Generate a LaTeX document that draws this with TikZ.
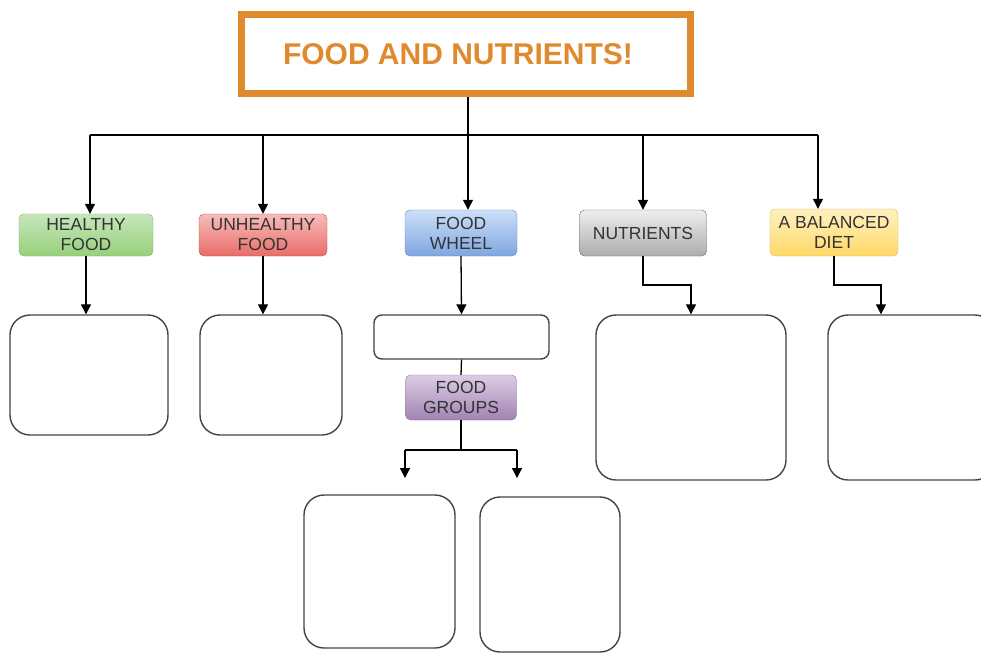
\documentclass[tikz,border=0pt]{standalone}
\usepackage{fontspec}
\setmainfont{Liberation Sans}
\usetikzlibrary{arrows.meta}
\definecolor{titleor}{HTML}{E08A2E}
\definecolor{txt}{HTML}{333333}
\definecolor{boxline}{HTML}{444444}
\definecolor{gT}{HTML}{C6E6BC}\definecolor{gB}{HTML}{97CF7A}\definecolor{gD}{HTML}{82B366}
\definecolor{rT}{HTML}{F6BCBA}\definecolor{rB}{HTML}{E96C68}\definecolor{rD}{HTML}{B85450}
\definecolor{bT}{HTML}{CCDFF8}\definecolor{bB}{HTML}{7EA6E0}\definecolor{bD}{HTML}{6C8EBF}
\definecolor{kT}{HTML}{EEEEEE}\definecolor{kB}{HTML}{ADADAD}\definecolor{kD}{HTML}{666666}
\definecolor{yT}{HTML}{FFF0C0}\definecolor{yB}{HTML}{FFD966}\definecolor{yD}{HTML}{D6B656}
\definecolor{pT}{HTML}{DCCDE4}\definecolor{pB}{HTML}{A183B2}\definecolor{pD}{HTML}{9673A6}
\tikzset{
  tag/.style={rounded corners=5pt, draw=#1D, top color=#1T, bottom color=#1B, inner sep=0pt, align=center,
    font=\fontsize{17.5}{20}\selectfont, text=txt},
  emptybox/.style={draw=boxline, line width=1.4pt, rounded corners=20pt, inner sep=0pt},
  conn/.style={line width=1.3pt, draw=black},
  arr/.style={conn, -{Triangle[length=10pt,width=10pt]}},
}
\begin{document}
\begin{tikzpicture}[x=1pt,y=-1pt]
\useasboundingbox (0,0) rectangle (981,653);
\fill[white] (0,0) rectangle (981,653);
% title
\node[draw=titleor, line width=7pt, minimum width=449pt, minimum height=79pt, inner sep=0pt,
  text=titleor, font=\bfseries\fontsize{30}{33}\selectfont] (title) at (466,54) {\hspace*{-16pt}FOOD AND NUTRIENTS!};
% category tags
\node[tag=g, minimum width=134pt, minimum height=42pt] (healthy) at (86,235) {HEALTHY\\FOOD};
\node[tag=r, minimum width=128pt, minimum height=42pt] (unhealthy) at (263,235) {UNHEALTHY\\FOOD};
\node[tag=b, minimum width=112pt, minimum height=46pt] (wheel) at (461,233) {FOOD\\WHEEL};
\node[tag=k, minimum width=127pt, minimum height=46pt] (nutr) at (643,233) {NUTRIENTS};
\node[tag=y, minimum width=128pt, minimum height=47pt] (diet) at (834,232.5) {A BALANCED\\DIET};
\node[tag=p, minimum width=111pt, minimum height=45pt] (groups) at (461,397.5) {FOOD\\GROUPS};
% empty boxes
\node[emptybox, minimum width=158pt, minimum height=120pt] (hbox) at (89,375) {};
\node[emptybox, minimum width=142pt, minimum height=120pt] (ubox) at (271,375) {};
\node[emptybox, rounded corners=8pt, minimum width=175pt, minimum height=44pt] (wbox) at (461.5,337) {};
\node[emptybox, minimum width=190pt, minimum height=165pt] (nbox) at (691,397.5) {};
\node[emptybox, minimum width=167pt, minimum height=165pt] (dbox) at (911.5,397.5) {};
\node[emptybox, minimum width=151pt, minimum height=153pt] (g1box) at (379.5,571.5) {};
\node[emptybox, minimum width=140pt, minimum height=155pt] (g2box) at (550,574.5) {};
% connectors
\coordinate (busL) at (90,135);
\coordinate (busU) at (263,135);
\coordinate (busM) at (468,135);
\coordinate (busN) at (643,135);
\coordinate (busR) at (818,135);
\draw[conn] (title.south -| busM) -- (busM);
\draw[conn] (busL) -- (busR);
\draw[arr] (busL) -- (busL |- healthy.north);
\draw[arr] (busU) -- (busU |- unhealthy.north);
\draw[arr] (busM) -- (busM |- wheel.north);
\draw[arr] (busN) -- (busN |- nutr.north);
\draw[arr] (busR) -- (busR |- diet.north);
\draw[arr] (healthy.south) -- (healthy.south |- hbox.north);
\draw[arr] (unhealthy.south) -- (unhealthy.south |- ubox.north);
\draw[arr] (wheel.south) -- (wbox.north);
\draw[conn] (wbox.south) -- (groups.north);
\coordinate (gj) at (461,450);
\coordinate (gl) at (405,450);
\coordinate (gr) at (517,450);
\draw[conn] (groups.south) -- (gj);
\draw[conn] (gl) -- (gr);
\draw[arr] (gl) -- ++(0,28);
\draw[arr] (gr) -- ++(0,28);
\coordinate (nj) at (691,285);
\draw[arr] (nutr.south) |- (nj) -- (nj |- nbox.north);
\coordinate (dj) at (881,285);
\draw[arr] (diet.south) |- (dj) -- (dj |- dbox.north);
\end{tikzpicture}
\end{document}
